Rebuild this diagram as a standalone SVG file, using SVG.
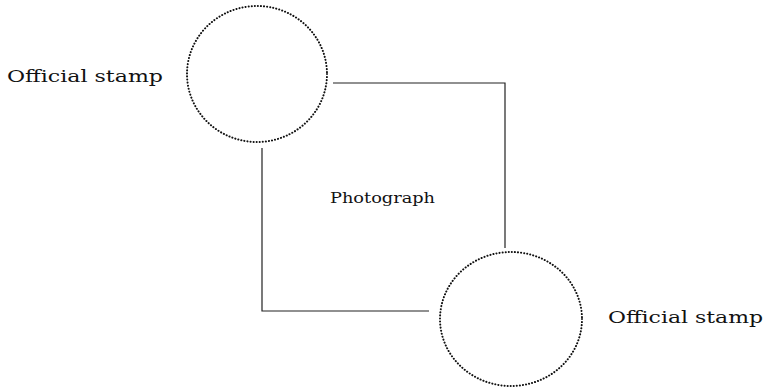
<svg xmlns="http://www.w3.org/2000/svg" width="765" height="387" viewBox="0 0 765 387">
<style>
.stamp{fill:none;stroke:#111;stroke-width:2;stroke-dasharray:0.1 3;stroke-linecap:round}
.edge{fill:none;stroke:#222;stroke-width:1.2}
.lbl{font-family:"DejaVu Serif","Liberation Serif",serif;font-size:17px;fill:#111}
.ph{font-family:"DejaVu Serif","Liberation Serif",serif;font-size:14px;fill:#111}
</style>
<rect width="765" height="387" fill="#fff"/>
<g id="connectors">
<polyline class="edge" points="333,83 505,83 505,248"/>
<polyline class="edge" points="262,148 262,311 429,311"/>
</g>
<g id="stamp1">
<ellipse class="stamp" cx="257" cy="74" rx="70" ry="68"/>
<text class="lbl" x="7" y="82" textLength="156" lengthAdjust="spacingAndGlyphs">Official stamp</text>
</g>
<g id="photo">
<text class="ph" x="330" y="203" textLength="105" lengthAdjust="spacingAndGlyphs">Photograph</text>
</g>
<g id="stamp2">
<ellipse class="stamp" cx="511" cy="319" rx="71" ry="67"/>
<text class="lbl" x="608" y="323" textLength="155" lengthAdjust="spacingAndGlyphs">Official stamp</text>
</g>
</svg>
